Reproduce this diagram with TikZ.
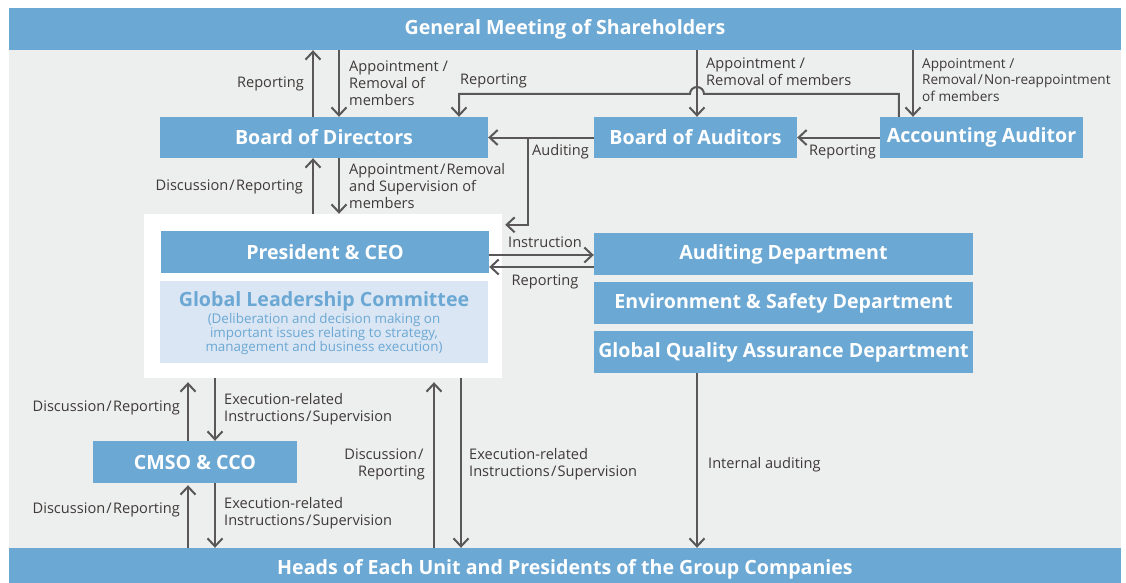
\documentclass[tikz,border=0pt]{standalone}
\usepackage{fontspec}
\setmainfont{Open Sans}
\usetikzlibrary{arrows.meta,calc}
\definecolor{boxblue}{RGB}{108,168,212}
\definecolor{bggray}{RGB}{237,238,238}
\definecolor{glcfill}{RGB}{218,230,243}
\definecolor{glctext}{RGB}{108,168,212}
\definecolor{linegray}{RGB}{89,87,87}
\definecolor{labeltext}{RGB}{62,58,57}
\newcommand{\slh}{\kern1.2pt/\kern1.2pt}
\tikzset{
  bluebox/.style={fill=boxblue, text=white, inner sep=0pt, font=\fontsize{19.6}{22}\selectfont\bfseries},
  lbl/.style={text=labeltext, inner sep=0pt, font=\fontsize{14.6}{17}\selectfont},
  conn/.style={draw=linegray, line width=2pt, -{Straight Barb[length=8pt,width=15pt,line width=2pt]}},
}
\begin{document}
\begin{tikzpicture}[x=1pt,y=-1pt]
\useasboundingbox (0,0) rectangle (1126,583);
\fill[white] (0,0) rectangle (1126,583);
\fill[bggray] (9,50) rectangle (1121,548);

% bars
\node[bluebox, minimum width=1112pt, minimum height=42pt] (gms) at (565,29) {General Meeting of Shareholders};
\node[bluebox, minimum width=1112pt, minimum height=42pt] (heads) at (565,569) {Heads of Each Unit and Presidents of the Group Companies};

% top row
\node[bluebox, minimum width=328pt, minimum height=41pt] (bod) at (324,137.5) {Board of Directors};
\node[bluebox, minimum width=203pt, minimum height=41pt] (boa) at (695.5,137.5) {Board of Auditors};
\node[bluebox, minimum width=203pt, minimum height=41pt] (aa) at (981.5,137.5) {Accounting Auditor};

% white block
\node[fill=white, minimum width=358pt, minimum height=164pt, inner sep=0pt] (wb) at (323,296) {};
\node[bluebox, minimum width=328pt, minimum height=42pt] (ceo) at (325,252) {President \& CEO};
\node[fill=glcfill, minimum width=328pt, minimum height=82pt, inner sep=0pt] (glc) at (324,322) {};
\node[text=glctext, inner sep=0pt, font=\fontsize{19.6}{22}\selectfont\bfseries] (glct) at (324,301) {Global Leadership Committee};
\node[text=glctext, inner sep=0pt, align=center, font=\fontsize{13.4}{14}\selectfont] (glcs) at (324,334)
  {(Deliberation and decision making on\\important issues relating to strategy,\\management and business execution)};

% departments
\node[bluebox, minimum width=379pt, minimum height=42pt] (aud) at (783.5,254) {Auditing Department};
\node[bluebox, minimum width=379pt, minimum height=42pt] (env) at (783.5,303) {Environment \& Safety Department};
\node[bluebox, minimum width=379pt, minimum height=42pt] (gqa) at (783.5,352) {Global Quality Assurance Department};

% CMSO
\node[bluebox, minimum width=204pt, minimum height=42pt] (cmso) at (195,462) {CMSO \& CCO};

% connectors: GMS <-> BoD
\draw[conn] (313,0|-bod.north) -- (313,0|-gms.south);
\draw[conn] (339,0|-gms.south) -- (339,0|-bod.north);
\node[lbl, anchor=east] (l1) at (304,84) {Reporting};
\node[lbl, anchor=west, align=left] (l2) at (349,83) {Appointment /\\Removal of\\members};

% GMS -> BoA, AA
\draw[conn] (697,0|-gms.south) -- (697,0|-boa.north);
\node[lbl, anchor=west, align=left] (l4) at (706,72) {Appointment /\\Removal of members};
\draw[conn] (913,0|-gms.south) -- (913,0|-aa.north);
\node[lbl, anchor=west, align=left, font=\fontsize{13.6}{16.5}\selectfont] (l5) at (922,80) {Appointment /\\Removal\slh Non-reappointment\\of members};

% AA reporting to BoD with hop
\coordinate (hopR) at (704,94);
\draw[conn] ([xshift=19pt]aa.north west) |- (hopR) arc[start angle=0, end angle=180, radius=7pt] -- (459,94) -- (459,0|-bod.north);
\node[lbl, anchor=west] (l3) at (460,81) {Reporting};

% Auditing
\draw[conn] (boa.west) -- (bod.east);
\draw[conn] (528,0|-bod.east) |- ($(wb.north east)+(3,11)$);
\node[lbl, anchor=west] (l6) at (532,152) {Auditing};

% AA -> BoA
\draw[conn] (aa.west) -- (boa.east);
\node[lbl, anchor=west] (l7) at (809,152) {Reporting};

% BoD <-> CEO
\draw[conn] (313,0|-wb.north) -- (313,0|-bod.south);
\draw[conn] (339,0|-bod.south) -- (339,0|-wb.north);
\node[lbl, anchor=east] (l8) at (303,187) {Discussion\slh Reporting};
\node[lbl, anchor=west, align=left] (l9) at (349,186) {Appointment\slh Removal\\and Supervision of\\members};

% CEO <-> Auditing Department
\draw[conn] (ceo.east|-0,255) -- (aud.west|-0,255);
\draw[conn] (aud.west|-0,267) -- (ceo.east|-0,267);
\node[lbl] (l10) at (545,242) {Instruction};
\node[lbl] (l11) at (545,282) {Reporting};

% WB <-> CMSO
\draw[conn, shorten >=4pt] (188,0|-cmso.north) -- (188,0|-wb.south);
\draw[conn] (215,0|-wb.south) -- (215,0|-cmso.north);
\node[lbl, anchor=east] (l12) at (180,408) {Discussion\slh Reporting};
\node[lbl, anchor=west, align=left] (l13) at (224,409) {Execution-related\\Instructions\slh Supervision};

% CMSO <-> Heads
\draw[conn, shorten >=2pt] (188,0|-heads.north) -- (188,0|-cmso.south);
\draw[conn] (215,0|-cmso.south) -- (215,0|-heads.north);
\node[lbl, anchor=east] (l14) at (180,510) {Discussion\slh Reporting};
\node[lbl, anchor=west, align=left] (l15) at (224,513) {Execution-related\\Instructions\slh Supervision};

% WB <-> Heads
\draw[conn, shorten >=4pt] (434,0|-heads.north) -- (434,0|-wb.south);
\draw[conn] (461,0|-wb.south) -- (461,0|-heads.north);
\node[lbl, anchor=east, align=right] (l16) at (425,464) {Discussion\slh\\Reporting};
\node[lbl, anchor=west, align=left] (l17) at (469,464) {Execution-related\\Instructions\slh Supervision};

% GQA -> Heads
\draw[conn] (697,0|-gqa.south) -- (697,0|-heads.north);
\node[lbl, anchor=west] (l18) at (708,465) {Internal auditing};
\end{tikzpicture}
\end{document}
